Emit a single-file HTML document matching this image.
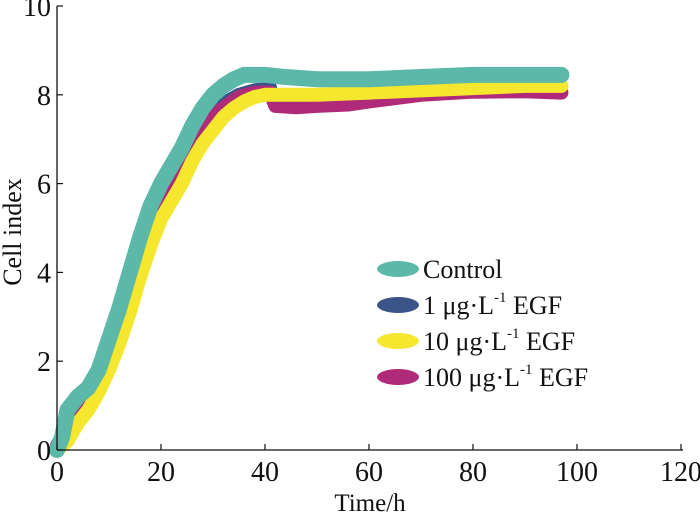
<!DOCTYPE html>
<html><head><meta charset="utf-8"><style>
html,body{margin:0;padding:0;background:#fff}
svg text{font-family:"Liberation Serif",serif;fill:#111}
</style></head><body>
<svg id="chart" width="700" height="513" viewBox="0 0 700 513" xmlns="http://www.w3.org/2000/svg">
<g id="series"></g>
<g id="axes"></g>
<g id="legend"></g>
</svg>
<script>
const xTicks=[0,20,40,60,80,100,120];
const yTicks=[0,2,4,6,8,10];
const seriesNames=["1 μg·L⁻¹ EGF","100 μg·L⁻¹ EGF","10 μg·L⁻¹ EGF","Control"];
const seriesColors=["#3b5488","#b02a7a","#f5e62e","#5cb8a8"];
const blueX=[0,1,2,3,5,8,10,12,14,16,18,20,22,24,26,28,30,32,35,38,41];
const blueY=[0.1,0.3,0.5,0.8,1.0,1.5,2.1,2.8,3.5,4.3,5.0,5.6,6.0,6.5,6.9,7.3,7.6,7.8,8.0,8.1,8.15];
const magX=[0,1,2,3,5,8,10,12,14,16,18,20,22,24,26,28,30,32,35,38,41,42,46,50,56,60,70,80,90,97];
const magY=[0.1,0.25,0.4,0.7,0.9,1.4,2.0,2.7,3.4,4.2,4.9,5.5,5.8,6.3,6.8,7.2,7.5,7.7,7.95,8.05,8.05,7.75,7.72,7.75,7.78,7.85,8.0,8.07,8.08,8.05];
const yelX=[0,2,4,6,8,10,12,14,16,18,20,22,24,26,28,30,32,34,36,38,40,45,50,60,70,80,90,97];
const yelY=[0,0.2,0.6,0.9,1.3,1.8,2.4,3.1,3.9,4.6,5.2,5.6,6.0,6.5,6.9,7.2,7.5,7.7,7.85,7.95,8.0,8.0,8.0,8.05,8.1,8.15,8.2,8.2];
const ctlX=[0,1,2,4,6,8,10,12,14,16,18,20,22,24,26,28,30,32,34,36,38,40,44,50,60,70,80,90,97];
const ctlY=[0,0.3,0.9,1.2,1.4,1.8,2.5,3.2,4.0,4.8,5.5,6.0,6.4,6.8,7.3,7.7,8.0,8.2,8.35,8.45,8.45,8.45,8.4,8.35,8.35,8.4,8.45,8.45,8.45];
const allX=[blueX,magX,yelX,ctlX], allY=[blueY,magY,yelY,ctlY];
const NS="http://www.w3.org/2000/svg";
const X0=57,XS=5.2,Y0=450,YS=44.4;
function sx(v){return X0+v*XS;}
function sy(v){return Y0-v*YS;}
function mk(t,a,p){const e=document.createElementNS(NS,t);for(const k in a)e.setAttribute(k,a[k]);p.appendChild(e);return e;}
const sg=document.getElementById('series');
const slugs=["series-1-egf","series-100-egf","series-10-egf","series-control"];
for(let i=0;i<4;i++){
  const pts=allX[i].map((x,j)=>sx(x)+","+sy(allY[i][j])).join(" ");
  const pl=mk('polyline',{points:pts,fill:"none",stroke:seriesColors[i],"stroke-width":i==3?16:14,"stroke-linejoin":"round","stroke-linecap":"round"},sg);
  
  
}
const ag=document.getElementById('axes');
let l=mk('line',{x1:X0,y1:Y0,x2:sx(120)+2,y2:Y0,stroke:"#111","stroke-width":1.3},ag);


l=mk('line',{x1:X0,y1:Y0,x2:X0,y2:sy(10),stroke:"#111","stroke-width":1.3},ag);


xTicks.forEach(v=>{
  mk('line',{x1:sx(v),y1:Y0,x2:sx(v),y2:Y0-6,stroke:"#111","stroke-width":1.2},ag);
  const t=mk('text',{x:sx(v),y:Y0+31,"text-anchor":"middle",style:"font-size:28px"},ag);t.textContent=v;
  
  
});
yTicks.forEach(v=>{
  mk('line',{x1:X0,y1:sy(v),x2:X0+6,y2:sy(v),stroke:"#111","stroke-width":1.2},ag);
  const t=mk('text',{x:X0-6,y:sy(v)+10,"text-anchor":"end",style:"font-size:28px"},ag);t.textContent=v;
  
  
});
let t=mk('text',{x:370,y:511,"text-anchor":"middle",style:"font-size:25px"},ag);t.textContent="Time/h";


t=mk('text',{x:0,y:0,"text-anchor":"middle",style:"font-size:26px",transform:"translate(21,232) rotate(-90)"},ag);t.textContent="Cell index";


const lg=document.getElementById('legend');
const legOrder=[3,0,2,1], legY=[269,305,341,377], legLab=["Control","1 μg·L","10 μg·L","100 μg·L"];
legOrder.forEach((si,k)=>{
  const e=mk('ellipse',{cx:398,cy:legY[k],rx:21,ry:8,fill:seriesColors[si]},lg);
  
  
  const tx=mk('text',{x:423,y:legY[k]+9,style:"font-size:26px"},lg);
  
  
  if(k==0){tx.textContent="Control";}
  else{tx.textContent=legLab[k];
    const s=mk('tspan',{dy:-12,style:"font-size:15px"},tx);s.textContent="-1";
    const s2=mk('tspan',{dy:12},tx);s2.textContent=" EGF";}
});
</script>
</body></html>
